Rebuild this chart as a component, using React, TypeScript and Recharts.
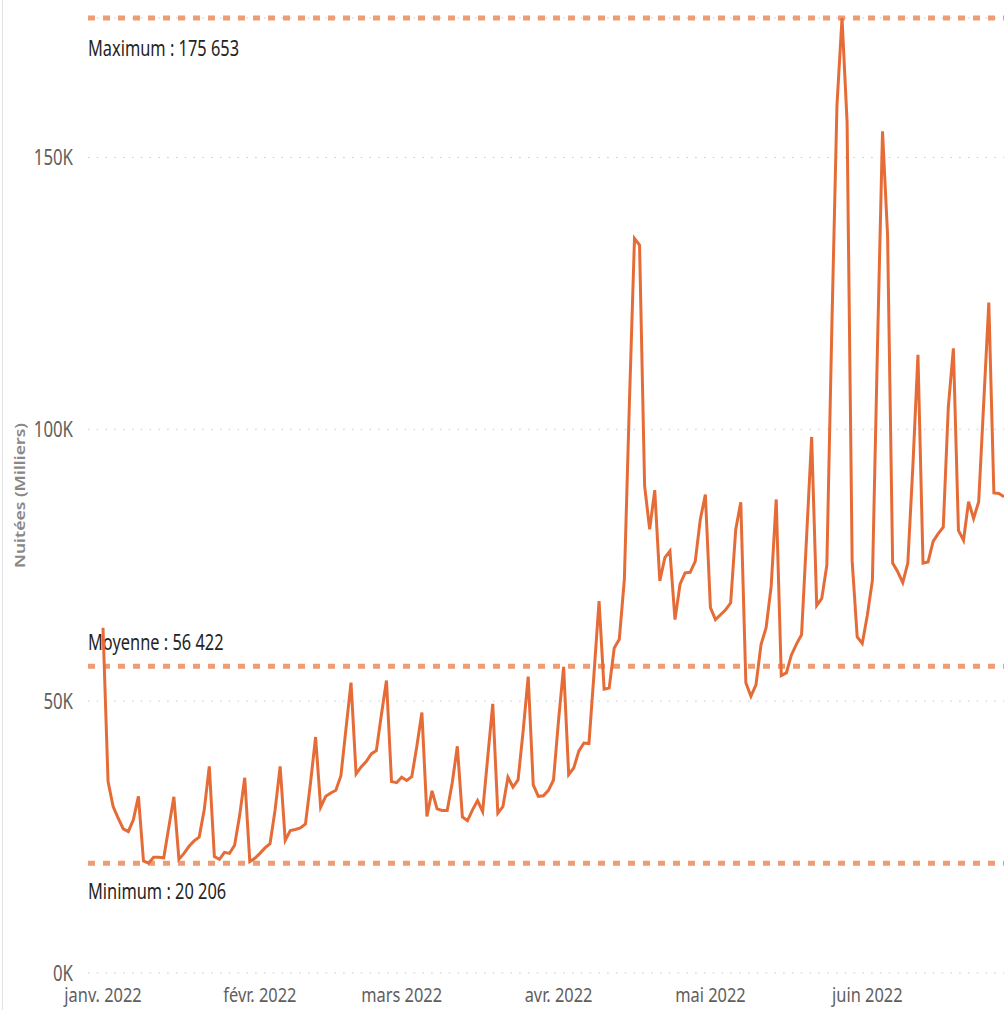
import React from 'react';
import { LineChart, Line, XAxis, YAxis, CartesianGrid, ReferenceLine } from 'recharts';

// Month tick positions (day index from 1 Jan 2022) and labels
const monthTicks = [0, 31, 59, 90, 120, 151];
const monthLabels = ['janv. 2022', 'févr. 2022', 'mars 2022', 'avr. 2022', 'mai 2022', 'juin 2022'];

// Y ticks
const yTicks = [0, 50000, 100000, 150000];

// Daily nights (thousands), 1 Jan 2022 onward
const janK = [
  63.5, 35.2, 30.6, 28.5, 26.5, 26.0, 28.2, 32.5, 20.6, 20.206,
  21.3, 21.3, 21.2, 26.8, 32.4, 20.9, 22.0, 23.3, 24.3, 25.0,
  30.0, 38.0, 21.4, 20.9, 22.2, 22.0, 23.5, 29.0, 35.9, 20.5,
  21.1,
];
const febK = [
  22.0, 23.0, 23.8, 30.0, 38.0, 24.4, 26.2, 26.4, 26.7, 27.4,
  35.0, 43.4, 30.5, 32.5, 33.1, 33.6, 36.3, 44.9, 53.4, 36.6,
  37.9, 38.9, 40.3, 40.9, 47.5, 53.8, 35.2, 35.0,
];
const marK = [
  36.0, 35.4, 36.1, 41.7, 47.9, 28.8, 33.5, 30.2, 29.9, 29.9,
  35.0, 41.7, 28.7, 28.0, 30.0, 31.7, 29.7, 39.6, 49.5, 29.4,
  30.6, 36.0, 34.2, 35.5, 44.5, 54.5, 34.6, 32.5, 32.6, 33.6,
  35.5,
];
const aprK = [
  46.5, 56.3, 36.5, 37.7, 40.8, 42.3, 42.2, 55.0, 68.4, 52.2,
  52.4, 59.8, 61.4, 72.4, 105.0, 135.1, 133.9, 89.6, 81.6, 88.8,
  72.1, 76.4, 77.6, 65.0, 71.5, 73.6, 73.7, 75.7, 83.4, 88.0,
];
const mayK = [
  67.2, 65.0, 65.9, 66.8, 68.1, 81.6, 86.6, 53.4, 50.9, 53.0,
  60.4, 63.5, 71.1, 87.1, 54.7, 55.2, 58.5, 60.5, 62.2, 80.2,
  98.6, 67.6, 68.9, 75.0, 119.3, 159.6, 175.653, 156.5, 75.8, 61.8,
  60.6,
];
const junK = [
  65.8, 72.2, 115.0, 154.8, 135.7, 75.4, 73.8, 71.8, 75.4, 93.3,
  113.7, 75.4, 75.6, 79.4, 80.8, 82.0, 104.1, 114.9, 81.4, 79.6,
  86.7, 83.6, 86.7, 105.0, 123.3, 88.3, 88.2, 87.6,
];

const maximum = 175653;
const moyenne = 56422;
const minimum = 20206;

const nuiteesK = [...janK, ...febK, ...marK, ...aprK, ...mayK, ...junK];
const data = nuiteesK.map((v, i) => ({ day: i, value: Math.round(v * 1000) }));
const lastDay = nuiteesK.length - 1;

const FONT = "'Noto Sans', 'Open Sans', 'DejaVu Sans', sans-serif";
const LINE_COLOR = '#E66C37';
const REF_COLOR = '#EE9C73';

const fmt = (n: number) => String(n).replace(/\B(?=(\d{3})+(?!\d))/g, ' ');

const XTick = (props: any) => {
  const { x, y, payload } = props;
  const idx = monthTicks.indexOf(payload.value);
  return (
    <g transform={`translate(${x},${y + 29}) scale(0.82,1)`}>
      <text x={0} y={0} textAnchor="middle" fontSize={20} fill="#605E5C" fontFamily={FONT}>
        {monthLabels[idx]}
      </text>
    </g>
  );
};

const YTick = (props: any) => {
  const { x, y, payload } = props;
  return (
    <g transform={`translate(${x - 15},${y + 7.5}) scale(0.8,1)`}>
      <text x={0} y={0} textAnchor="end" fontSize={21} fill="#605E5C" fontFamily={FONT}>
        {`${payload.value / 1000}K`}
      </text>
    </g>
  );
};

const YTitle = (props: any) => {
  const vb = props.viewBox || { x: 0, y: 18, width: 88, height: 955 };
  const cy = vb.y + vb.height / 2;
  return (
    <text
      x={0}
      y={0}
      transform={`translate(25,${cy}) rotate(-90)`}
      textAnchor="middle"
      fontSize={13.5}
      fontWeight={600}
      fill="#8A8886"
      fontFamily={FONT}
      textLength={145}
      lengthAdjust="spacingAndGlyphs"
    >
      Nuitées (Milliers)
    </text>
  );
};

const refLabel = (text: string, dy: number) => (props: any) => {
  const vb = props.viewBox || { x: 88, y: 0 };
  return (
    <g transform={`translate(${vb.x},${vb.y + dy}) scale(0.78,1)`}>
      <text x={0} y={0} fontSize={21} fill="#252423" fontFamily={FONT}>
        {text}
      </text>
    </g>
  );
};

export default function App() {
  return (
    <div
      style={{
        position: 'absolute',
        left: 0,
        top: 0,
        width: 1004,
        height: 1010,
        overflow: 'hidden',
        background: '#ffffff',
      }}
    >
      <div
        style={{ position: 'absolute', left: 2, top: 0, width: 1, height: 1010, background: '#E3E3E3' }}
      />
      <LineChart
        width={1004}
        height={1010}
        data={data}
        margin={{ top: 18, right: 0, bottom: 0, left: 0 }}
      >
        <CartesianGrid vertical={false} stroke="#C8C8C8" strokeDasharray="1.5 7.3" />
        <XAxis
          type="number"
          dataKey="day"
          domain={[0, lastDay]}
          ticks={monthTicks}
          padding={{ left: 15, right: 0 }}
          axisLine={false}
          tickLine={false}
          tickSize={0}
          tickMargin={0}
          height={37}
          tick={<XTick />}
          interval={0}
        />
        <YAxis
          type="number"
          domain={[0, maximum]}
          ticks={yTicks}
          axisLine={false}
          tickLine={false}
          tickSize={0}
          tickMargin={0}
          width={88}
          tick={<YTick />}
          interval={0}
          label={{ content: YTitle as any }}
        />
        <ReferenceLine
          y={maximum}
          stroke={REF_COLOR}
          strokeWidth={5}
          strokeDasharray="7 8"
          label={{ content: refLabel(`Maximum : ${fmt(maximum)}`, 38) as any }}
        />
        <ReferenceLine
          y={moyenne}
          stroke={REF_COLOR}
          strokeWidth={5}
          strokeDasharray="7 8"
          label={{ content: refLabel(`Moyenne : ${fmt(moyenne)}`, -16) as any }}
        />
        <ReferenceLine
          y={minimum}
          stroke={REF_COLOR}
          strokeWidth={5}
          strokeDasharray="7 8"
          label={{ content: refLabel(`Minimum : ${fmt(minimum)}`, 36) as any }}
        />
        <Line
          type="linear"
          dataKey="value"
          stroke={LINE_COLOR}
          strokeWidth={3}
          dot={false}
          activeDot={false}
          isAnimationActive={false}
        />
      </LineChart>
    </div>
  );
}
